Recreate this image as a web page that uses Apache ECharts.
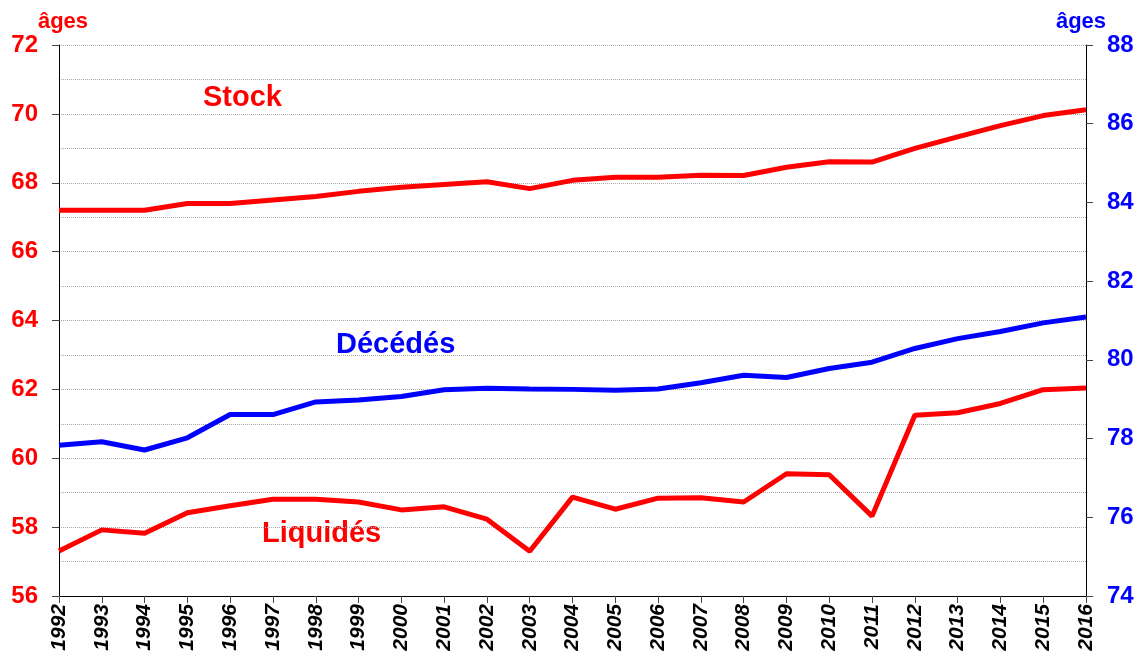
<!DOCTYPE html>
<html>
<head>
<meta charset="utf-8">
<script src="https://cdn.jsdelivr.net/npm/echarts@6/dist/echarts.min.js"></script>
<style>
  html, body { margin: 0; padding: 0; background: #ffffff; }
  #myChart { width: 1140px; height: 659px; }
</style>
</head>
<body>
<div id="myChart"></div>
<script>
// années
const years = ['1992', '1993', '1994', '1995', '1996', '1997', '1998', '1999', '2000', '2001',
  '2002', '2003', '2004', '2005', '2006', '2007', '2008', '2009', '2010', '2011',
  '2012', '2013', '2014', '2015', '2016']
// âge moyen du stock (axe gauche)
const stock = [67.2, 67.2, 67.2, 67.4, 67.4, 67.5, 67.6, 67.75, 67.87, 67.95,
  68.03, 67.83, 68.07, 68.16, 68.16, 68.22, 68.21, 68.45, 68.61, 68.6,
  69.0, 69.33, 69.66, 69.95, 70.12]
// âge moyen des liquidés (axe gauche)
const liquides = [57.31, 57.92, 57.82, 58.42, 58.62, 58.81, 58.81, 58.73, 58.5, 58.59,
  58.23, 57.3, 58.87, 58.52, 58.84, 58.85, 58.73, 59.55, 59.52, 58.32,
  61.25, 61.32, 61.59, 61.99, 62.04]
// âge moyen des décédés (axe droit)
const decedes = [77.83, 77.92, 77.71, 78.02, 78.61, 78.61, 78.93, 78.98, 79.07, 79.24,
  79.28, 79.26, 79.25, 79.23, 79.26, 79.42, 79.61, 79.55, 79.78, 79.94,
  80.29, 80.54, 80.72, 80.94, 81.09]

const font = '"Liberation Sans", Arial, sans-serif'
const RED = '#ff0000'
const BLUE = '#0000ff'

let myChart = echarts.init(document.getElementById('myChart'))

const options = {
  animation: false,
  backgroundColor: '#ffffff',
  grid: { left: 59, right: 54, top: 45, bottom: 63, containLabel: false },
  xAxis: {
    type: 'category',
    data: years,
    boundaryGap: false,
    axisLine: { lineStyle: { color: '#000', width: 1 } },
    axisTick: { show: true, interval: 0, length: 7, lineStyle: { color: '#444' } },
    axisLabel: {
      interval: 0,
      rotate: 90,
      margin: 8,
      color: '#000',
      fontFamily: font,
      fontSize: 21,
      fontWeight: 'bold',
      fontStyle: 'italic'
    },
    splitLine: { show: false }
  },
  yAxis: [
    {
      type: 'value',
      min: 56,
      max: 72,
      interval: 2,
      position: 'left',
      name: 'âges',
      nameLocation: 'end',
      nameGap: 21,
      nameTextStyle: {
        color: RED, fontFamily: font, fontSize: 22, fontWeight: 'bold',
        align: 'center', verticalAlign: 'middle', padding: [0, 0, 0, 8]
      },
      axisLine: { show: true, lineStyle: { color: '#000', width: 1 } },
      axisTick: { show: true, length: 7, lineStyle: { color: '#444' } },
      axisLabel: {
        margin: 21, color: RED, fontFamily: font, fontSize: 24, fontWeight: 'bold'
      },
      splitLine: { show: true, lineStyle: { color: '#aaa', type: 'dotted', width: 1 } },
      minorTick: { show: false, splitNumber: 2 },
      minorSplitLine: { show: true, lineStyle: { color: '#aaa', type: 'dotted', width: 1 } }
    },
    {
      type: 'value',
      min: 74,
      max: 88,
      interval: 2,
      position: 'right',
      name: 'âges',
      nameLocation: 'end',
      nameGap: 17,
      nameTextStyle: {
        color: BLUE, fontFamily: font, fontSize: 22, fontWeight: 'bold',
        align: 'center', verticalAlign: 'middle', padding: [0, 10, 0, 0]
      },
      axisLine: { show: true, lineStyle: { color: '#000', width: 1 } },
      axisTick: { show: true, length: 7, lineStyle: { color: '#444' } },
      axisLabel: {
        margin: 21, color: BLUE, fontFamily: font, fontSize: 24, fontWeight: 'bold'
      },
      splitLine: { show: false }
    }
  ],
  series: [
    {
      name: 'Stock',
      type: 'line',
      yAxisIndex: 0,
      data: stock,
      symbol: 'none',
      lineStyle: { color: RED, width: 5 }
    },
    {
      name: 'Liquidés',
      type: 'line',
      yAxisIndex: 0,
      data: liquides,
      symbol: 'none',
      lineStyle: { color: RED, width: 5 }
    },
    {
      name: 'Décédés',
      type: 'line',
      yAxisIndex: 1,
      data: decedes,
      symbol: 'none',
      lineStyle: { color: BLUE, width: 5 }
    }
  ],
  // étiquettes des courbes
  graphic: [
    {
      type: 'text', left: 203, top: 83,
      style: { text: 'Stock', fill: RED, font: 'bold 29px ' + font }
    },
    {
      type: 'text', left: 336, top: 330,
      style: { text: 'Décédés', fill: BLUE, font: 'bold 29px ' + font }
    },
    {
      type: 'text', left: 262, top: 519,
      style: { text: 'Liquidés', fill: RED, font: 'bold 29px ' + font }
    }
  ]
}

myChart.setOption(options)
</script>
</body>
</html>
